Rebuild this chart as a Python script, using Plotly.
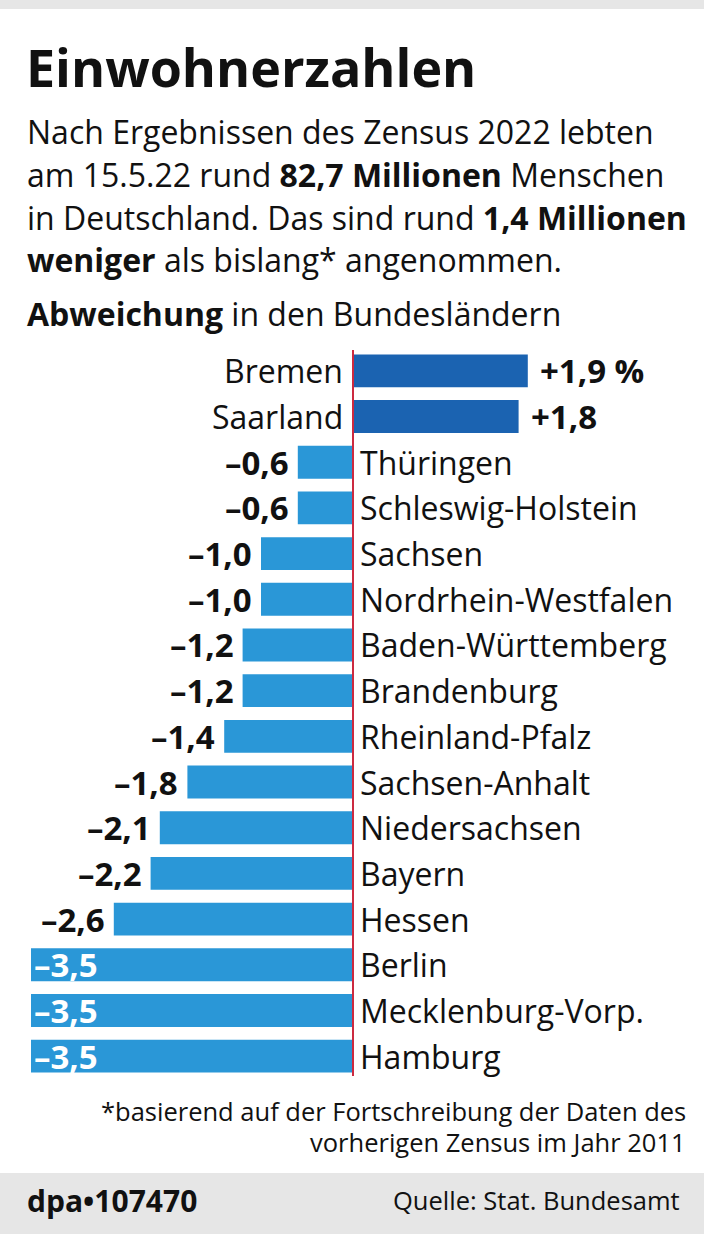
import plotly.graph_objects as go

laender = ["Bremen", "Saarland", "Thüringen", "Schleswig-Holstein", "Sachsen",
           "Nordrhein-Westfalen", "Baden-Württemberg", "Brandenburg", "Rheinland-Pfalz",
           "Sachsen-Anhalt", "Niedersachsen", "Bayern", "Hessen", "Berlin",
           "Mecklenburg-Vorp.", "Hamburg"]
abweichung = [1.9, 1.8, -0.6, -0.6, -1.0, -1.0, -1.2, -1.2, -1.4, -1.8, -2.1, -2.2,
              -2.6, -3.5, -3.5, -3.5]

W, H = 704, 1234
MT, MB = 348, 155
PH = H - MT - MB
FONT = "Open Sans"
POS_C = "#1b63b1"
NEG_C = "#2a97d7"
NAME_SIZE = 32
VAL_SIZE = 33


def py(y):
    return (H - MB - y) / PH


def px(x):
    return x / W


def fmt(v, first=False):
    s = ("+" if v > 0 else "–") + f"{abs(v):.1f}".replace(".", ",")
    if first:
        s += " %"
    return s


fig = go.Figure()
fig.add_trace(go.Bar(
    x=abweichung, y=laender, orientation="h",
    marker=dict(color=[POS_C if v > 0 else NEG_C for v in abweichung], line=dict(width=0)),
    width=0.72, hoverinfo="skip",
))

ann = []
shapes = []
for i, (name, v) in enumerate(zip(laender, abweichung)):
    if v > 0:
        ann.append(dict(x=0, y=name, xref="x", yref="y", text=name, xanchor="right",
                        xshift=-8, showarrow=False, font=dict(size=NAME_SIZE, color="#111", family=FONT)))
        ann.append(dict(x=v, y=name, xref="x", yref="y", text="<b>" + fmt(v, i == 0) + "</b>",
                        xanchor="left", xshift=10, showarrow=False,
                        font=dict(size=VAL_SIZE, color="#111", family=FONT)))
    else:
        ann.append(dict(x=0, y=name, xref="x", yref="y", text=name, xanchor="left",
                        xshift=5, showarrow=False, font=dict(size=NAME_SIZE, color="#111", family=FONT)))
        if v <= -3.5:
            ann.append(dict(x=v, y=name, xref="x", yref="y", text="<b>" + fmt(v) + "</b>",
                            xanchor="left", xshift=1, showarrow=False,
                            font=dict(size=VAL_SIZE, color="white", family=FONT)))
        else:
            ann.append(dict(x=v, y=name, xref="x", yref="y", text="<b>" + fmt(v) + "</b>",
                            xanchor="right", xshift=-7, showarrow=False,
                            font=dict(size=VAL_SIZE, color="#111", family=FONT)))

# Zero line
shapes.append(dict(type="line", xref="x", yref="paper", x0=0, x1=0, y0=py(1076), y1=py(350),
                   line=dict(color="#cc2a40", width=2)))
# Top strip
shapes.append(dict(type="rect", xref="paper", yref="paper", x0=0, x1=1, y0=py(9), y1=py(0),
                   fillcolor="#e6e6e6", line=dict(width=0), layer="below"))
# Footer band
shapes.append(dict(type="rect", xref="paper", yref="paper", x0=0, x1=1, y0=py(1234), y1=py(1173),
                   fillcolor="#e6e6e6", line=dict(width=0), layer="below"))

ann.append(dict(x=px(24), y=py(66), xref="paper", yref="paper", text="<b>Einwohnerzahlen</b>",
                xanchor="left", yanchor="middle", showarrow=False,
                font=dict(size=52, color="#111", family=FONT)))
sub = ["Nach Ergebnissen des Zensus 2022 lebten",
       "am 15.5.22 rund <b>82,7 Millionen</b> Menschen",
       "in Deutschland. Das sind rund <b>1,4 Millionen</b>",
       "<b>weniger</b> als bislang* angenommen."]
for k, line in enumerate(sub):
    ann.append(dict(x=px(25), y=py(131 + 43 * k), xref="paper", yref="paper", text=line,
                    xanchor="left", yanchor="middle", showarrow=False,
                    font=dict(size=32, color="#111", family=FONT)))
ann.append(dict(x=px(25), y=py(313), xref="paper", yref="paper",
                text="<b>Abweichung</b> in den Bundesländern",
                xanchor="left", yanchor="middle", showarrow=False,
                font=dict(size=32, color="#111", family=FONT)))
foot = ["*basierend auf der Fortschreibung der Daten des", "vorherigen Zensus im Jahr 2011"]
for k, line in enumerate(foot):
    ann.append(dict(x=px(688), y=py(1111 + 31 * k), xref="paper", yref="paper", text=line,
                    xanchor="right", yanchor="middle", showarrow=False,
                    font=dict(size=25.5, color="#111", family=FONT)))
ann.append(dict(x=px(25), y=py(1200), xref="paper", yref="paper", text="<b>dpa•107470</b>",
                xanchor="left", yanchor="middle", showarrow=False,
                font=dict(size=30, color="#111", family=FONT)))
ann.append(dict(x=px(682), y=py(1200), xref="paper", yref="paper", text="Quelle: Stat. Bundesamt",
                xanchor="right", yanchor="middle", showarrow=False,
                font=dict(size=25.5, color="#111", family=FONT)))

scale = 92.0
fig.update_layout(
    width=W, height=H, margin=dict(l=0, r=0, t=MT, b=MB),
    paper_bgcolor="white", plot_bgcolor="white", showlegend=False,
    xaxis=dict(range=[-353 / scale, (W - 353) / scale], visible=False, fixedrange=True),
    yaxis=dict(categoryorder="array", categoryarray=laender, autorange=False,
               range=[len(laender) - 0.5, -0.5], visible=False, fixedrange=True),
    annotations=ann, shapes=shapes, bargap=0.28,
)
fig.write_html("out.html", config={"displayModeBar": False},
               post_script="document.body.style.margin='0';document.body.style.padding='0';"
                           "document.documentElement.style.overflow='hidden';")
